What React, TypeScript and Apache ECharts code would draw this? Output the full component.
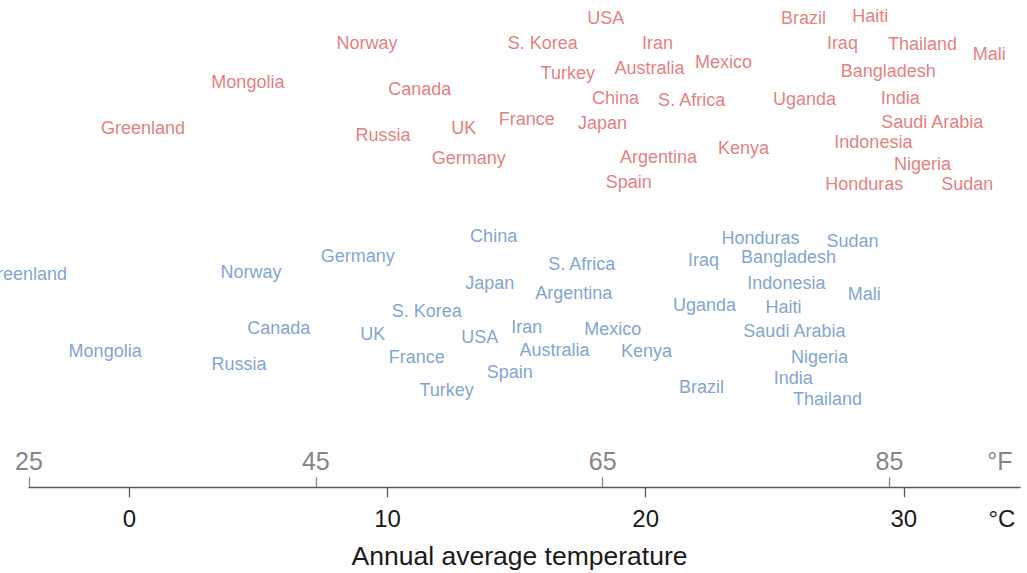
import React, { useEffect, useRef } from "react";
import * as echarts from "echarts";

// Red group: country names, annual average temperature (°C), vertical spread (0-100)
const redNames = ["USA", "Brazil", "Haiti", "Norway", "S. Korea", "Iran", "Iraq", "Thailand", "Mali", "Mexico", "Australia", "Turkey", "Bangladesh", "Mongolia", "Canada", "China", "India", "Uganda", "S. Africa", "France", "Saudi Arabia", "Japan", "Greenland", "UK", "Russia", "Indonesia", "Kenya", "Argentina", "Germany", "Nigeria", "Spain", "Honduras", "Sudan"];
const redTemp = [18.45, 26.11, 28.7, 9.2, 16.01, 20.46, 27.62, 30.72, 33.31, 23.01, 20.15, 16.98, 29.4, 4.59, 11.25, 18.83, 29.86, 26.15, 21.78, 15.39, 31.1, 18.33, 0.53, 12.95, 9.82, 28.82, 23.79, 20.5, 13.15, 30.72, 19.34, 28.47, 32.46];
const redSpread = [96.3, 96.3, 96.7, 91.2, 91.2, 91.2, 91.2, 91.0, 88.9, 87.3, 86.0, 85.0, 85.4, 83.2, 81.7, 79.9, 79.9, 79.7, 79.5, 75.6, 75.0, 74.8, 73.7, 73.7, 72.3, 70.9, 69.6, 67.8, 67.6, 66.3, 62.7, 62.2, 62.2];

// Blue group
const blueNames = ["China", "Honduras", "Sudan", "Germany", "Bangladesh", "Iraq", "S. Africa", "Norway", "Greenland", "Japan", "Indonesia", "Argentina", "Mali", "Uganda", "Haiti", "S. Korea", "Iran", "Canada", "Mexico", "Saudi Arabia", "UK", "USA", "Australia", "Mongolia", "Kenya", "France", "Nigeria", "Russia", "Spain", "India", "Brazil", "Turkey", "Thailand"];
const blueTemp = [14.11, 24.45, 28.01, 8.85, 25.53, 22.24, 17.52, 4.71, -4.04, 13.96, 25.45, 17.21, 28.47, 22.28, 25.34, 11.52, 15.39, 5.79, 18.72, 25.76, 9.43, 13.57, 16.47, -0.94, 20.03, 11.13, 26.73, 4.25, 14.73, 25.72, 22.16, 12.29, 27.04];
const blueSpread = [51.6, 51.2, 50.5, 47.5, 47.3, 46.6, 45.8, 44.2, 43.8, 41.9, 41.9, 39.9, 39.7, 37.4, 37.0, 36.2, 32.9, 32.7, 32.5, 32.1, 31.5, 30.8, 28.2, 28.0, 28.0, 26.7, 26.7, 25.3, 23.7, 22.4, 20.6, 20.0, 18.1];

// Axes
const celsiusTicks = [0, 10, 20, 30];
const fahrenheitTicks = [25, 45, 65, 85];
const celsiusMin = -3.889; // = 25 °F
const celsiusMax = 34.5;
const celsiusUnitAt = 33.8;
const fahrenheitUnitAt = 92.7;
const axisTitle = "Annual average temperature";

const toF = (c: number) => c * 1.8 + 32;
const FONT = "'Liberation Sans', Arial, Helvetica, sans-serif";

const buildData = (names: string[], xs: number[], ys: number[]) =>
  names.map((n, i) => ({ name: n, value: [xs[i], ys[i]] }));

export default function App() {
  const ref = useRef<HTMLDivElement>(null);
  useEffect(() => {
    if (!ref.current) return;
    const chart = echarts.init(ref.current, undefined, { renderer: "svg" });
    const labelSeries = (names: string[], xs: number[], ys: number[], color: string) => ({
      type: "scatter",
      xAxisIndex: 0,
      yAxisIndex: 0,
      clip: false,
      symbolSize: 1,
      itemStyle: { color: "rgba(0,0,0,0)" },
      label: {
        show: true,
        position: "inside",
        formatter: "{b}",
        color,
        fontSize: 18,
        fontFamily: FONT,
      },
      emphasis: { disabled: true },
      data: buildData(names, xs, ys),
    });
    chart.setOption({
      animation: false,
      backgroundColor: "#ffffff",
      grid: { left: 29, right: 7, top: 0, bottom: 85.7, outerBoundsMode: "none", containLabel: false },
      xAxis: [
        {
          type: "value",
          position: "bottom",
          min: celsiusMin,
          max: celsiusMax,
          splitLine: { show: false },
          axisLine: { show: true, lineStyle: { color: "#5a5a5a", width: 1.3 } },
          axisTick: {
            show: true,
            inside: false,
            length: 10,
            customValues: celsiusTicks,
            lineStyle: { color: "#5a5a5a", width: 1.3 },
          },
          axisLabel: {
            show: true,
            margin: 19,
            customValues: [...celsiusTicks, celsiusUnitAt],
            formatter: (v: number) => (v === celsiusUnitAt ? "°C" : String(v)),
            color: "#1a1a1a",
            fontSize: 24,
            fontFamily: FONT,
          },
          name: axisTitle,
          nameLocation: "middle",
          nameGap: 55,
          nameTextStyle: { color: "#1a1a1a", fontSize: 26.5, fontFamily: FONT, padding: [0, 10, 0, 0] },
        },
        {
          type: "value",
          position: "bottom",
          min: toF(celsiusMin),
          max: toF(celsiusMax),
          splitLine: { show: false },
          axisLine: { show: false },
          axisTick: {
            show: true,
            inside: true,
            length: 10,
            customValues: fahrenheitTicks,
            lineStyle: { color: "#8a8a8a", width: 1.3 },
          },
          axisLabel: {
            show: true,
            inside: true,
            margin: 14,
            customValues: [...fahrenheitTicks, fahrenheitUnitAt],
            formatter: (v: number) => (v === fahrenheitUnitAt ? "°F" : String(v)),
            color: "#858585",
            fontSize: 25,
            fontFamily: FONT,
          },
        },
      ],
      yAxis: {
        type: "value",
        min: 0,
        max: 100,
        show: false,
        splitLine: { show: false },
      },
      series: [
        labelSeries(redNames, redTemp, redSpread, "#df5c5c"),
        labelSeries(blueNames, blueTemp, blueSpread, "#5f8bc6"),
      ],
    });
    return () => chart.dispose();
  }, []);
  return (
    <div
      ref={ref}
      style={{ position: "absolute", left: 0, top: 0, width: 1027, height: 573, background: "#fff" }}
    />
  );
}
